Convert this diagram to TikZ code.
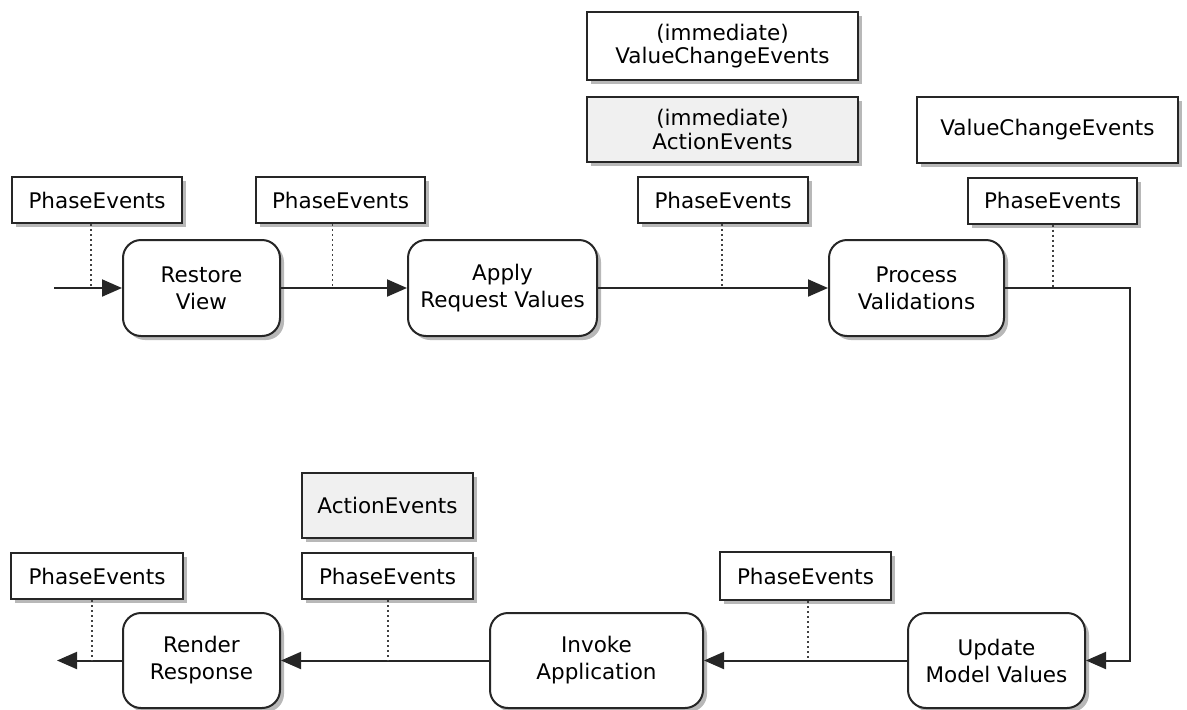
\documentclass[tikz,border=0pt]{standalone}
\usepackage{fontspec}
\setmainfont{DejaVu Sans}
\usetikzlibrary{arrows.meta,shadows,calc}
\definecolor{shadowgray}{HTML}{B8B8B8}
\definecolor{boxgray}{HTML}{F0F0F0}
\begin{document}
\begin{tikzpicture}[x=1pt,y=-1pt,
  font=\fontsize{21.5}{27}\selectfont,
  evbox/.style={draw=black!85,line width=2pt,fill=white,inner sep=0pt,align=center,
     drop shadow={shadow xshift=4pt,shadow yshift=-4pt,fill=shadowgray,opacity=1}},
  graybox/.style={evbox,fill=boxgray},
  phasebox/.style={evbox,rounded corners=18pt,line width=2pt,minimum height=96pt},
  flow/.style={line width=2pt,draw=black!85,-{Triangle[length=20pt,width=17pt]}},
  dotline/.style={line width=1.8pt,draw=black!75,dash pattern=on 2pt off 3pt}]
\useasboundingbox (0,0) rectangle (1187,710);
% event boxes
\node[evbox,minimum width=170pt,minimum height=46pt] (pe1) at (97,200) {PhaseEvents};
\node[evbox,minimum width=169pt,minimum height=46pt] (pe2) at (340.5,200) {PhaseEvents};
\node[evbox,minimum width=170pt,minimum height=46pt] (pe3) at (723,200) {PhaseEvents};
\node[evbox,minimum width=169pt,minimum height=46pt] (pe4) at (1052.5,200.5) {PhaseEvents};
\node[evbox,minimum width=271pt,minimum height=68pt,font=\fontsize{21.5}{23.5}\selectfont] (ive) at (722.5,46) {(immediate)\\ValueChangeEvents};
\node[graybox,minimum width=271pt,minimum height=65pt,font=\fontsize{21.5}{23.5}\selectfont] (iae) at (722.5,129.5) {(immediate)\\ActionEvents};
\node[evbox,minimum width=261pt,minimum height=66pt] (vce) at (1047.5,130) {ValueChangeEvents};
\node[evbox,minimum width=171pt,minimum height=48pt] (pe5) at (805.5,576) {PhaseEvents};
\node[evbox,minimum width=171pt,minimum height=46pt] (pe6) at (387.5,576) {PhaseEvents};
\node[evbox,minimum width=172pt,minimum height=46pt] (pe7) at (97,576) {PhaseEvents};
\node[graybox,minimum width=171pt,minimum height=65pt] (ae) at (387.5,505.5) {ActionEvents};
% phases
\node[phasebox,minimum width=157pt] (restore) at (201.5,288) {Restore\\View};
\node[phasebox,minimum width=189pt] (apply) at (502.5,288) {Apply\\Request Values};
\node[phasebox,minimum width=175pt] (process) at (916.5,288) {Process\\Validations};
\node[phasebox,minimum width=177pt,minimum height=95pt] (update) at (996.5,660.5) {Update\\Model Values};
\node[phasebox,minimum width=213pt,minimum height=95pt] (invoke) at (596.5,660.5) {Invoke\\Application};
\node[phasebox,minimum width=157pt,minimum height=95pt] (render) at (201.5,660.5) {Render\\Response};
% flow
\coordinate (start) at (54,288);
\coordinate (turn) at (1130,288);
\coordinate (finish) at (57,660.5);
\draw[flow] (start) -- (restore);
\draw[flow] (restore) -- (apply);
\draw[flow] (apply) -- (process);
\draw[flow] (process) -- (turn) |- (update);
\draw[flow] (update) -- (invoke);
\draw[flow] (invoke) -- (render);
\draw[flow] (render) -- (finish);
% dotted links
\draw[dotline] ([xshift=-6pt]pe1.south) -- ([xshift=-6pt]pe1.south |- restore);
\draw[dotline] ([xshift=-8pt]pe2.south) -- ([xshift=-8pt]pe2.south |- restore);
\draw[dotline] ([xshift=-1pt]pe3.south) -- ([xshift=-1pt]pe3.south |- restore);
\draw[dotline] ([xshift=0.5pt]pe4.south) -- ([xshift=0.5pt]pe4.south |- process);
\draw[dotline] ([xshift=2.5pt]pe5.south) -- ([xshift=2.5pt]pe5.south |- update);
\draw[dotline] ([xshift=0.5pt]pe6.south) -- ([xshift=0.5pt]pe6.south |- invoke);
\draw[dotline] ([xshift=-5pt]pe7.south) -- ([xshift=-5pt]pe7.south |- render);
\end{tikzpicture}
\end{document}
